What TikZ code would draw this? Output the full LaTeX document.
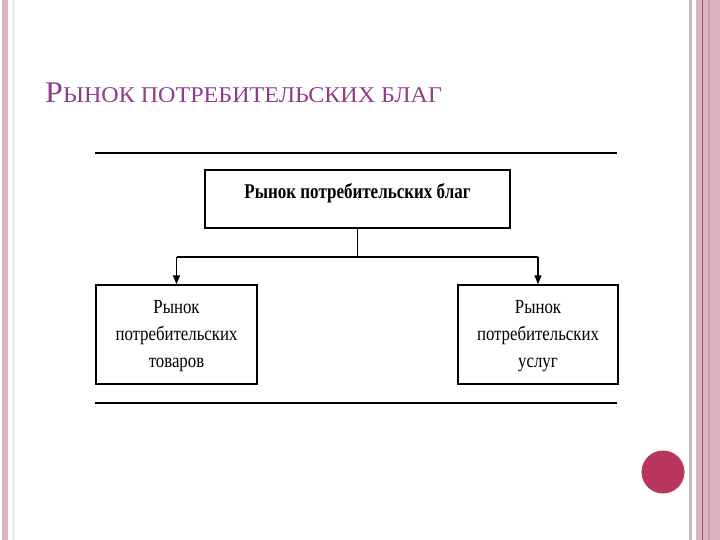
\documentclass[tikz,border=0pt]{standalone}
\usepackage{fontspec}
\setmainfont{Liberation Serif}
\newfontfamily\titlefont[FakeStretch=1.07]{Liberation Serif}
\newfontfamily\boxfont[FakeStretch=0.84]{Liberation Serif}
\newfontfamily\boxboldfont[FakeStretch=0.81]{Liberation Serif}
\usetikzlibrary{arrows.meta}
\definecolor{stripe}{HTML}{DDB3C2}
\definecolor{stripeline}{HTML}{A0506E}
\definecolor{stripegray}{HTML}{CDB6C2}
\definecolor{dot}{HTML}{B9365F}
\definecolor{titlecol}{HTML}{8E3E8C}
\tikzset{
  box/.style={draw=black, line width=1.4pt, rectangle, inner sep=0pt, align=center},
  rule/.style={line width=1.8pt},
  link/.style={line width=1.1pt},
  arr/.style={line width=1.1pt, -{Triangle[length=9pt,width=7pt]}},
  boxtext/.style={inner sep=0pt, align=center, font=\boxfont\fontsize{20}{27}\selectfont},
}
\begin{document}
\begin{tikzpicture}[x=1pt,y=-1pt]
\useasboundingbox (0,0) rectangle (720,540);
\fill[white] (0,0) rectangle (720,540);
% left border
\fill[stripe] (2,0) rectangle (8,540);
\fill[stripe!30] (12,0) rectangle (15,540);
% right border
\fill[stripegray] (689,0) rectangle (692,540);
\fill[stripe] (696,0) rectangle (720,540);
\fill[stripe!85!black!90] (708,0) rectangle (710,540);
\draw[stripeline, line width=1pt] (702.5,0) -- (702.5,540);
% dot
\fill[dot] (663,472) circle (21.5);
% title
\node[anchor=base west, inner sep=0pt, text=titlecol] (title) at (45,103)
  {\titlefont\fontsize{30}{30}\selectfont Р\fontsize{22.5}{22.5}\selectfont ЫНОК ПОТРЕБИТЕЛЬСКИХ БЛАГ};
% rules
\coordinate (r1a) at (95,153); \coordinate (r1b) at (617,153);
\coordinate (r2a) at (95,403); \coordinate (r2b) at (617,403);
\draw[rule] (r1a) -- (r1b);
\draw[rule] (r2a) -- (r2b);
% boxes
\node[box, minimum width=305pt, minimum height=58pt] (top) at (357.5,199) {};
\node[anchor=base, inner sep=0pt] (toptext) at (357.5,199)
  {\boxboldfont\bfseries\fontsize{21}{21}\selectfont Рынок потребительских благ};
\node[box, minimum width=161pt, minimum height=99pt] (left) at (176.5,334.5) {};
\node[box, minimum width=160pt, minimum height=99pt] (right) at (538,334.5) {};
\node[boxtext] (lt) at (176.5,336.5) {Рынок\\потребительских\\товаров};
\node[boxtext] (rt) at (538,336.5) {Рынок\\потребительских\\услуг};
% connectors
\coordinate (j) at (357.5,257);
\coordinate (jl) at (176.5,257);
\coordinate (jr) at (538,257);
\draw[link] (top.south) -- (j);
\draw[link] (jl) -- (jr);
\draw[arr] (jl) -- (left.north);
\draw[arr] (jr) -- (right.north);
\end{tikzpicture}
\end{document}
